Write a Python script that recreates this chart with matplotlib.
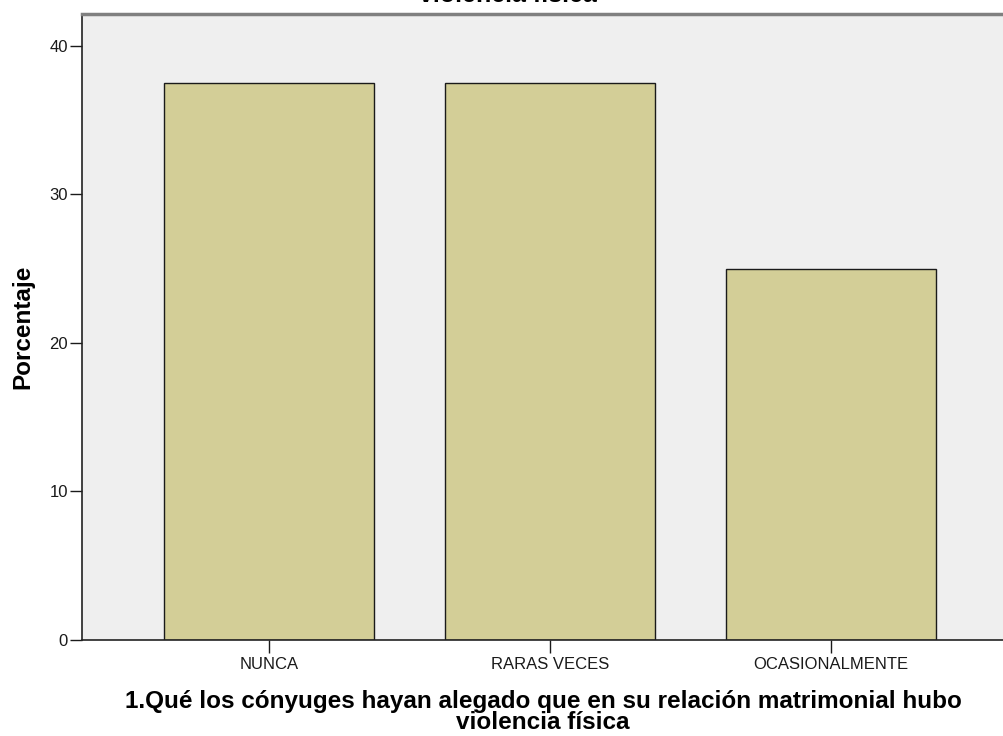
import matplotlib
matplotlib.use("Agg")
import matplotlib.pyplot as plt

categories = ["NUNCA", "RARAS VECES", "OCASIONALMENTE"]
percentages = [37.5, 37.5, 25.0]
yticks = [0, 10, 20, 30, 40]

plt.rcParams['font.family'] = ['Liberation Sans', 'DejaVu Sans']

fig = plt.figure(figsize=(10.04, 7.36), dpi=100)
ax = fig.add_axes([82/1004, 96/736, 1 - 82/1004, 626/736])
ax.set_facecolor('#EFEFEF')

x = list(range(len(categories)))
ax.bar(x, percentages, width=0.747, color='#D3CE97', edgecolor='#1a1a1a', linewidth=1.0, zorder=2)

ax.set_xlim(-0.665, 2.616)
ax.set_ylim(0, 42.15)
ax.set_yticks(yticks)
ax.set_xticks(x)
ax.set_xticklabels(categories, fontsize=12)
ax.tick_params(axis='y', labelsize=12, length=9, width=1, colors='#1a1a1a', pad=1)
ax.tick_params(axis='x', length=9, width=1, colors='#1a1a1a', pad=3)

for s in ['left', 'bottom']:
    ax.spines[s].set_color('#222222')
    ax.spines[s].set_linewidth(1.2)
ax.spines['top'].set_color('#808080')
ax.spines['top'].set_linewidth(2.5)
ax.spines['right'].set_visible(False)

ax.set_ylabel("Porcentaje", fontsize=17.5, fontweight='bold', labelpad=11)
ax.set_xlabel("1.Qué los cónyuges hayan alegado que en su relación matrimonial hubo\nviolencia física",
              fontsize=17.5, fontweight='bold', labelpad=13, linespacing=0.9)

fig.text(508 / 1004, 1 - 1.5/736, "violencia física", ha='center', va='baseline',
         fontsize=18, fontweight='bold')

fig.savefig("out.png", dpi=100)
